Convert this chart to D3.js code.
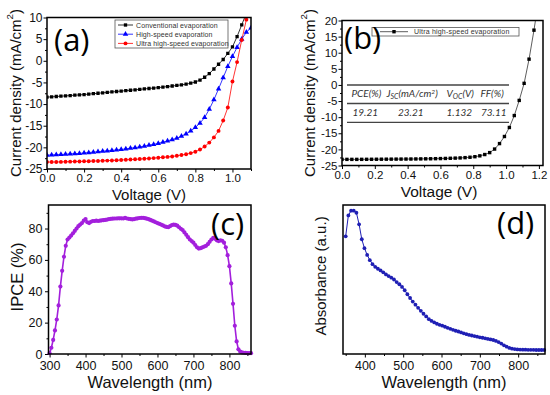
<!DOCTYPE html>
<html>
<meta charset="utf-8">
<style>
  body { margin: 0; background: #fff; }
  svg text { font-family: "Liberation Sans", Arial, sans-serif; fill: #111; }
  .title { font-size: 15px; }
  .panel-lbl { font-family: "Open Sans", sans-serif; font-size: 31px; fill: #000; }
  .tbl { font-family: Lato, sans-serif; font-style: italic; font-size: 10px; fill: #333; }
  .leg { font-size: 7px; fill: #333; }
</style>
<body>
<div id="chart"></div>
<script src="https://d3js.org/d3.v7.min.js"></script>
<script>
// ---- (a) J-V curves of the three evaporation methods ----
var voltA = [0, 0.025, 0.05, 0.075, 0.1, 0.125, 0.15, 0.175, 0.2, 0.225, 0.25, 0.275, 0.3, 0.325, 0.35, 0.375,
  0.4, 0.425, 0.45, 0.475, 0.5, 0.525, 0.55, 0.575, 0.6, 0.625, 0.65, 0.675, 0.7, 0.725, 0.75, 0.775,
  0.8, 0.825, 0.85, 0.875, 0.9, 0.925, 0.95, 0.975, 1.0, 1.025, 1.05, 1.075, 1.1];
var jConventional = [-8.4, -8.33, -8.25, -8.18, -8.1, -8.03, -7.95, -7.88, -7.8, -7.7, -7.6, -7.5, -7.4, -7.3, -7.2, -7.1,
  -7.0, -6.9, -6.8, -6.7, -6.6, -6.5, -6.4, -6.3, -6.2, -6.08, -5.95, -5.83, -5.7, -5.55, -5.4, -5.18,
  -4.9, -4.45, -3.8, -2.95, -1.9, -0.8, 0.3, 1.7, 3.2, 5.6, 8.3, 11];
var jHighSpeed = [-21.8, -21.75, -21.7, -21.65, -21.6, -21.5, -21.45, -21.4, -21.3, -21.2, -21.1, -21.0, -20.9, -20.8, -20.7, -20.6,
  -20.5, -20.35, -20.2, -20.05, -19.9, -19.7, -19.5, -19.3, -19.1, -18.8, -18.5, -18.2, -17.9, -17.4, -16.9, -16.2,
  -15.4, -14.4, -13.1, -11.2, -9.0, -6.5, -3.9, -1.3, 1.0, 3.1, 5.0, 6.6, 7.6];
var jUltra = [-23.4, -23.4, -23.38, -23.36, -23.33, -23.3, -23.28, -23.25, -23.22, -23.2, -23.17, -23.14, -23.1, -23.06, -23.02, -22.97,
  -22.92, -22.87, -22.82, -22.76, -22.7, -22.63, -22.56, -22.48, -22.4, -22.3, -22.2, -22.1, -21.95, -21.78, -21.58, -21.33,
  -21.0, -20.5, -19.8, -18.9, -17.7, -16.2, -13.8, -10.8, -4.8, -0.3, 4.8, 9.5, 14];
var legendA = ["Conventional evaporation", "High-speed evaporation", "Ultra high-speed evaporation"];
var xTicksA = [0, 0.2, 0.4, 0.6, 0.8, 1.0];
var yTicksA = [-25, -20, -15, -10, -5, 0, 5, 10];

// ---- (b) best ultra high-speed device ----
var voltB = [0, 0.03, 0.06, 0.09, 0.12, 0.15, 0.18, 0.21, 0.24, 0.27, 0.3, 0.33, 0.36, 0.39, 0.42, 0.45,
  0.48, 0.51, 0.54, 0.57, 0.6, 0.63, 0.66, 0.69, 0.72, 0.75, 0.78, 0.81, 0.84, 0.87, 0.9, 0.93,
  0.96, 0.99, 1.02, 1.05, 1.08, 1.11, 1.14, 1.17, 1.2];
var jBest = [-23.1, -23.1, -23.1, -23.1, -23.09, -23.08, -23.07, -23.06, -23.05, -23.04, -23.03, -23.02, -23.01, -23.0, -22.99, -22.97,
  -22.95, -22.93, -22.91, -22.88, -22.85, -22.81, -22.76, -22.71, -22.65, -22.56, -22.44, -22.27, -22.0, -21.6, -21.0, -19.9,
  -18.2, -16.0, -13.2, -9.5, -4.8, 0.5, 8.0, 17, 27];
var xTicksB = [0, 0.2, 0.4, 0.6, 0.8, 1.0, 1.2];
var yTicksB = [-25, -20, -15, -10, -5, 0, 5, 10, 15, 20];
var tableValues = ["19.21", "23.21", "1.132", "73.11"];

// ---- (c) IPCE ----
var waveC = [300, 305, 310, 315, 320, 325, 330, 335, 340, 345, 350, 355, 360, 365, 370, 375, 380, 385, 390, 395,
  400, 405, 410, 415, 420, 425, 430, 435, 440, 445, 450, 455, 460, 465, 470, 475, 480, 485, 490, 495,
  500, 505, 510, 515, 520, 525, 530, 535, 540, 545, 550, 555, 560, 565, 570, 575, 580, 585, 590, 595,
  600, 605, 610, 615, 620, 625, 630, 635, 640, 645, 650, 655, 660, 665, 670, 675, 680, 685, 690, 695,
  700, 705, 710, 715, 720, 725, 730, 735, 740, 745, 750, 755, 760, 765, 770, 775, 780, 785, 790, 795,
  800, 805, 810, 815, 820, 825, 830, 835, 840, 845, 850, 855, 860];
var ipce = [0.5, 4, 9, 15, 22, 31, 43, 53, 62, 69, 73, 74.2, 75.5, 77, 78.5, 80, 81.5, 82.5, 83.5, 85,
  86, 84, 83.5, 84.3, 84.8, 84.8, 85, 84.8, 85, 85.2, 85.3, 85.5, 85.7, 86, 86.2, 86.3, 86.4, 86.4, 86.5, 86.5,
  86.5, 86.4, 86.8, 86.4, 86.2, 86, 85.8, 86, 86.3, 86.5, 86.7, 86.8, 86.8, 86.6, 86.3, 86, 85.5, 85, 84.5, 84,
  83.5, 83, 82.5, 82, 81.4, 81, 80.8, 81.5, 82.2, 82.5, 82.3, 81.8, 80.8, 79.8, 79, 77.5, 76, 74.5, 73, 72,
  71, 69.5, 68, 67.2, 67.5, 68, 68.5, 69, 70, 71.5, 73, 74, 73.5, 72.5, 72, 72.5, 72.2, 71, 68, 63,
  56, 45, 32, 18, 8, 3, 1.5, 1, 0.8, 0.7, 0.6, 0.6, 0.5];
var xTicksC = [300, 400, 500, 600, 700, 800];
var yTicksC = [0, 20, 40, 60, 80];

// ---- (d) absorbance ----
var waveD = [350, 357, 364, 371, 378, 385, 392, 399, 406, 413, 420, 427, 434, 441, 448, 455, 462, 469, 476, 483,
  490, 497, 504, 511, 518, 525, 532, 539, 546, 553, 560, 567, 574, 581, 588, 595, 602, 609, 616, 623,
  630, 637, 644, 651, 658, 665, 672, 679, 686, 693, 700, 707, 714, 721, 728, 735, 742, 749, 756, 763,
  770, 777, 784, 791, 798, 805, 812, 819, 826, 833, 840, 847, 854, 861, 868];
var absorb = [0.79, 0.93, 0.962, 0.962, 0.948, 0.87, 0.77, 0.71, 0.665, 0.63, 0.603, 0.585, 0.572, 0.561, 0.548, 0.534, 0.523, 0.512, 0.5, 0.483,
  0.468, 0.45, 0.428, 0.401, 0.376, 0.352, 0.331, 0.31, 0.29, 0.27, 0.252, 0.234, 0.222, 0.212, 0.203, 0.196, 0.19, 0.183, 0.176, 0.169,
  0.162, 0.156, 0.151, 0.145, 0.139, 0.133, 0.128, 0.124, 0.12, 0.116, 0.112, 0.109, 0.105, 0.101, 0.098, 0.094, 0.088, 0.08, 0.07, 0.058,
  0.049, 0.041, 0.036, 0.033, 0.031, 0.03, 0.029, 0.029, 0.028, 0.028, 0.028, 0.027, 0.027, 0.027, 0.027];
var xTicksD = [400, 500, 600, 700, 800];

var svg = d3.select("#chart").append("svg").attr("width", 550).attr("height", 395);

// minor ticks sit halfway between the major ones
function halfSteps(ticks, extra) {
  var out = [];
  for (var i = 0; i < ticks.length - 1; i++) out.push((ticks[i] + ticks[i + 1]) / 2);
  if (extra !== undefined) out.push(extra);
  return out;
}

// one axis (major + minor ticks), the domain line is replaced by the frame
function addAxis(scale, side, major, minor, fmt, pos, fs, pad) {
  var make = side == "bottom" ? d3.axisBottom : d3.axisLeft;
  var tr = side == "bottom" ? "translate(0," + pos + ")" : "translate(" + pos + ",0)";
  if (minor) {
    var m = svg.append("g").attr("transform", tr)
      .call(make(scale).tickValues(minor).tickSize(2).tickSizeOuter(0).tickFormat(""));
    m.select(".domain").remove();
  }
  var a = svg.append("g").attr("transform", tr)
    .call(make(scale).tickValues(major).tickSize(3.5).tickSizeOuter(0).tickPadding(pad).tickFormat(fmt));
  a.select(".domain").remove();
  a.selectAll("text").attr("font-size", fs).attr("font-family", "Liberation Sans, Arial, sans-serif").attr("fill", "#111");
  a.selectAll("line").attr("stroke", "#000");
}

function frame(x, y) {
  svg.append("rect")
    .attr("x", x.range()[0]).attr("y", y.range()[1])
    .attr("width", x.range()[1] - x.range()[0]).attr("height", y.range()[0] - y.range()[1])
    .attr("fill", "none").attr("stroke", "#000").attr("stroke-width", 1.5);
}

function clipFor(id, x, y) {
  svg.append("clipPath").attr("id", id).append("rect")
    .attr("x", x.range()[0]).attr("y", y.range()[1])
    .attr("width", x.range()[1] - x.range()[0]).attr("height", y.range()[0] - y.range()[1]);
}

function vTitle(txt, cx, cy, fs, sup) {
  var t = svg.append("text").attr("class", "title")
    .attr("transform", "translate(" + cx + "," + cy + ") rotate(-90)")
    .attr("text-anchor", "middle").attr("dominant-baseline", "central")
    .style("font-size", fs + "px").text(txt);
  if (sup) {
    t.append("tspan").attr("baseline-shift", "super").style("font-size", (fs * 0.65) + "px").text("2");
    t.append("tspan").text(")");
  }
}

function hTitle(txt, cx, by, fs) {
  svg.append("text").attr("class", "title")
    .attr("x", cx).attr("y", by).attr("text-anchor", "middle")
    .style("font-size", fs + "px").text(txt);
}

var fmt1 = function(d) { return d.toFixed(1); };
var fmt0 = function(d) { return String(d); };

// ================= panel (a) =================
var xA = d3.scaleLinear().domain([0, 1.1]).range([47, 251]);
var yA = d3.scaleLinear().domain([-25, 10]).range([169, 17.5]);
clipFor("clipA", xA, yA);
addAxis(xA, "bottom", xTicksA, halfSteps(xTicksA, 1.1), fmt1, 169, 11.5, 1.5);
addAxis(yA, "left", yTicksA, halfSteps(yTicksA), fmt0, 47, 12, 1);

var seriesA = [
  { vals: jConventional, color: "#000000", shape: d3.symbolSquare, size: 11 },
  { vals: jHighSpeed, color: "#0000ff", shape: d3.symbolTriangle, size: 13 },
  { vals: jUltra, color: "#ff0000", shape: d3.symbolCircle, size: 12 }
];
var gA = svg.append("g").attr("clip-path", "url(#clipA)");
seriesA.forEach(function(s) {
  var pts = s.vals.map(function(j, i) { return [voltA[i], j]; });
  gA.append("path").datum(pts)
    .attr("fill", "none").attr("stroke", s.color).attr("stroke-width", 0.8)
    .attr("d", d3.line().x(function(d) { return xA(d[0]); }).y(function(d) { return yA(d[1]); }));
  gA.selectAll(null).data(pts).enter().append("path")
    .attr("transform", function(d) { return "translate(" + xA(d[0]) + "," + yA(d[1]) + ")"; })
    .attr("d", d3.symbol().type(s.shape).size(s.size))
    .attr("fill", s.color);
});
frame(xA, yA);

// legend (a)
svg.append("rect").attr("x", 115).attr("y", 20).attr("width", 113).attr("height", 28)
  .attr("fill", "#fff").attr("stroke", "#555").attr("stroke-width", 0.8);
legendA.forEach(function(name, i) {
  var ly = 25 + i * 9.2;
  svg.append("line").attr("x1", 118).attr("x2", 133).attr("y1", ly).attr("y2", ly)
    .attr("stroke", seriesA[i].color).attr("stroke-width", 0.8);
  svg.append("path").attr("transform", "translate(125.5," + ly + ")")
    .attr("d", d3.symbol().type(seriesA[i].shape).size(seriesA[i].size)).attr("fill", seriesA[i].color);
  svg.append("text").attr("class", "leg").attr("x", 136).attr("y", ly)
    .attr("dominant-baseline", "central").style("letter-spacing", "0.1px").text(name);
});
vTitle("Current density (mA/cm", 15, 93, 15, true);
hTitle("Voltage (V)", 149, 199.5, 15);
svg.append("text").attr("class", "panel-lbl").attr("x", 54).attr("y", 51).text("(a)");

// ================= panel (b) =================
var xB = d3.scaleLinear().domain([0, 1.225]).range([342, 543]);
var yB = d3.scaleLinear().domain([-25, 20]).range([165.5, 20.5]);
clipFor("clipB", xB, yB);
addAxis(xB, "bottom", xTicksB, halfSteps(xTicksB), fmt1, 165.5, 11.5, 1.5);
addAxis(yB, "left", yTicksB, halfSteps(yTicksB), fmt0, 342, 11.5, 1);

var ptsB = jBest.map(function(j, i) { return [voltB[i], j]; });
var gB = svg.append("g").attr("clip-path", "url(#clipB)");
gB.append("path").datum(ptsB)
  .attr("fill", "none").attr("stroke", "#333").attr("stroke-width", 0.8)
  .attr("d", d3.line().x(function(d) { return xB(d[0]); }).y(function(d) { return yB(d[1]); }));
gB.selectAll(null).data(ptsB).enter().append("rect")
  .attr("x", function(d) { return xB(d[0]) - 1.7; })
  .attr("y", function(d) { return yB(d[1]) - 1.7; })
  .attr("width", 3.4).attr("height", 3.4).attr("fill", "#000");
frame(xB, yB);

// legend (b)
svg.append("rect").attr("x", 372).attr("y", 27.5).attr("width", 147).attr("height", 8.5)
  .attr("fill", "#fff").attr("stroke", "#555").attr("stroke-width", 0.8);
svg.append("line").attr("x1", 380).attr("x2", 408).attr("y1", 31.7).attr("y2", 31.7)
  .attr("stroke", "#333").attr("stroke-width", 0.8);
svg.append("rect").attr("x", 392.3).attr("y", 30).attr("width", 3.4).attr("height", 3.4).attr("fill", "#000");
svg.append("text").attr("class", "leg").attr("x", 414).attr("y", 31.9)
  .attr("dominant-baseline", "central").style("letter-spacing", "0.2px").text("Ultra high-speed evaporation");

// table in (b)
[85, 103.5, 122.3].forEach(function(ly) {
  svg.append("line").attr("x1", 347).attr("x2", 509).attr("y1", ly).attr("y2", ly)
    .attr("stroke", "#444").attr("stroke-width", 1.3);
});
svg.append("text").attr("class", "tbl").attr("x", 351.5).attr("y", 97).text("PCE(%)");
var hj = svg.append("text").attr("class", "tbl").attr("x", 386.5).attr("y", 97);
hj.append("tspan").text("J");
hj.append("tspan").attr("baseline-shift", "-2px").style("font-size", "7px").text("SC");
hj.append("tspan").text("(mA/cm");
hj.append("tspan").attr("baseline-shift", "3px").style("font-size", "6.5px").text("2");
hj.append("tspan").text(")");
var hv = svg.append("text").attr("class", "tbl").attr("x", 446.5).attr("y", 97);
hv.append("tspan").text("V");
hv.append("tspan").attr("baseline-shift", "-2px").style("font-size", "7px").text("OC");
hv.append("tspan").text("(V)");
svg.append("text").attr("class", "tbl").attr("x", 480.5).attr("y", 97).text("FF(%)");
var valX = [352.5, 398, 446.5, 481];
tableValues.forEach(function(v, i) {
  svg.append("text").attr("class", "tbl").attr("x", valX[i]).attr("y", 115.5).text(v);
});
vTitle("Current density (mA/cm", 309, 93, 15, true);
hTitle("Voltage (V)", 439, 197, 15.5);
svg.append("text").attr("class", "panel-lbl").attr("x", 344).attr("y", 49).text("(b)");

// ================= panel (c) =================
var xC = d3.scaleLinear().domain([297, 860]).range([48.5, 251]);
var yC = d3.scaleLinear().domain([0, 95]).range([354, 205]);
addAxis(xC, "bottom", xTicksC, halfSteps(xTicksC, 850), fmt0, 354, 12.5, 3.5);
addAxis(yC, "left", yTicksC, halfSteps(yTicksC, 90), fmt0, 48.5, 12.5, 2.5);
var ptsC = ipce.map(function(v, i) { return [waveC[i], v]; });
svg.append("path").datum(ptsC)
  .attr("fill", "none").attr("stroke", "#a31fdc").attr("stroke-width", 1.6)
  .attr("d", d3.line().x(function(d) { return xC(d[0]); }).y(function(d) { return yC(d[1]); }));
svg.selectAll(null).data(ptsC).enter().append("circle")
  .attr("cx", function(d) { return xC(d[0]); })
  .attr("cy", function(d) { return yC(d[1]); })
  .attr("r", 2.1).attr("fill", "#a31fdc");
frame(xC, yC);
vTitle("IPCE (%)", 17, 277, 16.5, false);
hTitle("Wavelength (nm)", 150, 387.5, 16.5);
svg.append("text").attr("class", "panel-lbl").attr("x", 211).attr("y", 235).text("(c)");

// ================= panel (d) =================
var xD = d3.scaleLinear().domain([343, 870]).range([343, 545]);
var yD = d3.scaleLinear().domain([0, 1]).range([354, 205]);
addAxis(xD, "bottom", xTicksD, halfSteps(xTicksD, 850).concat([350]), fmt0, 354, 12.5, 3.5);
var ptsD = absorb.map(function(v, i) { return [waveD[i], v]; });
svg.append("path").datum(ptsD)
  .attr("fill", "none").attr("stroke", "#1f1fb4").attr("stroke-width", 1)
  .attr("d", d3.line().x(function(d) { return xD(d[0]); }).y(function(d) { return yD(d[1]); }));
svg.selectAll(null).data(ptsD).enter().append("circle")
  .attr("cx", function(d) { return xD(d[0]); })
  .attr("cy", function(d) { return yD(d[1]); })
  .attr("r", 1.9).attr("fill", "#1f1fb4");
frame(xD, yD);
vTitle("Absorbance (a.u.)", 320, 276, 15, false);
hTitle("Wavelength (nm)", 444, 387.5, 16.5);
svg.append("text").attr("class", "panel-lbl").attr("x", 497).attr("y", 234).text("(d)");
</script>
</body>
</html>
